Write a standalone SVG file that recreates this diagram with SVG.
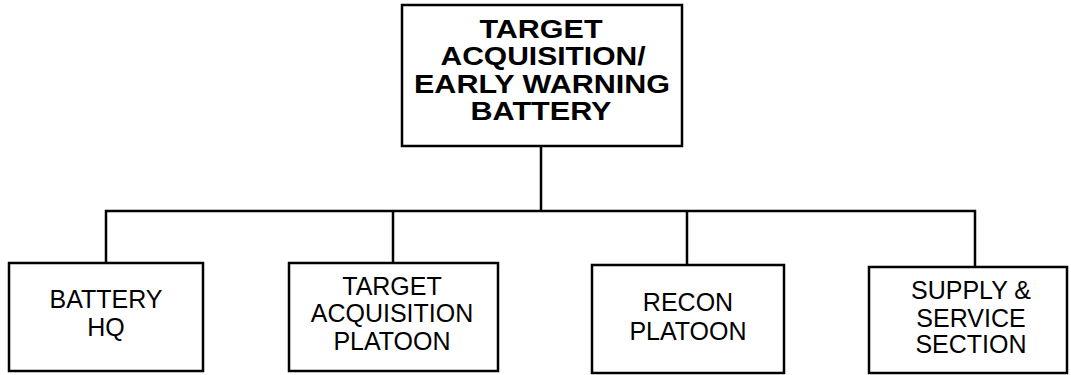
<svg xmlns="http://www.w3.org/2000/svg" width="1071" height="375" viewBox="0 0 1071 375">
<style>
.box{fill:#fff;stroke:#000;stroke-width:2.5}
.ln{fill:none;stroke:#000;stroke-width:2.5}
.t{font-family:"Liberation Sans",Arial,sans-serif;font-size:25px;fill:#000;text-anchor:middle}
.tb{font-family:"Liberation Sans",Arial,sans-serif;font-size:25px;font-weight:bold;fill:#000;text-anchor:middle}
</style>
<rect width="1071" height="375" fill="#fff"/>
<g id="connectors">
<line class="ln" x1="541" y1="146" x2="541" y2="211"/>
<polyline class="ln" points="106,263 106,211 975,211 975,267"/>
<line class="ln" x1="393" y1="211" x2="393" y2="263"/>
<line class="ln" x1="687" y1="211" x2="687" y2="265"/>
</g>
<g id="top">
<rect class="box" x="402" y="5" width="280" height="141"/>
<text class="tb" x="541" y="38" textLength="123" lengthAdjust="spacingAndGlyphs">TARGET</text>
<text class="tb" x="543" y="65" textLength="205" lengthAdjust="spacingAndGlyphs">ACQUISITION/</text>
<text class="tb" x="542" y="93" textLength="256" lengthAdjust="spacingAndGlyphs">EARLY WARNING</text>
<text class="tb" x="541" y="120" textLength="141" lengthAdjust="spacingAndGlyphs">BATTERY</text>
</g>
<g id="hq">
<rect class="box" x="9" y="263" width="194" height="108"/>
<text class="t" x="106" y="308">BATTERY</text>
<text class="t" x="106" y="336">HQ</text>
</g>
<g id="tap">
<rect class="box" x="289" y="263" width="209" height="108"/>
<text class="t" x="392" y="295">TARGET</text>
<text class="t" x="392" y="322">ACQUISITION</text>
<text class="t" x="392" y="350">PLATOON</text>
</g>
<g id="recon">
<rect class="box" x="592" y="265" width="192" height="108"/>
<text class="t" x="688" y="311">RECON</text>
<text class="t" x="688" y="340">PLATOON</text>
</g>
<g id="supply">
<rect class="box" x="869" y="267" width="198" height="106"/>
<text class="t" x="971" y="299">SUPPLY &amp;</text>
<text class="t" x="971" y="327">SERVICE</text>
<text class="t" x="971" y="353">SECTION</text>
</g>
</svg>
